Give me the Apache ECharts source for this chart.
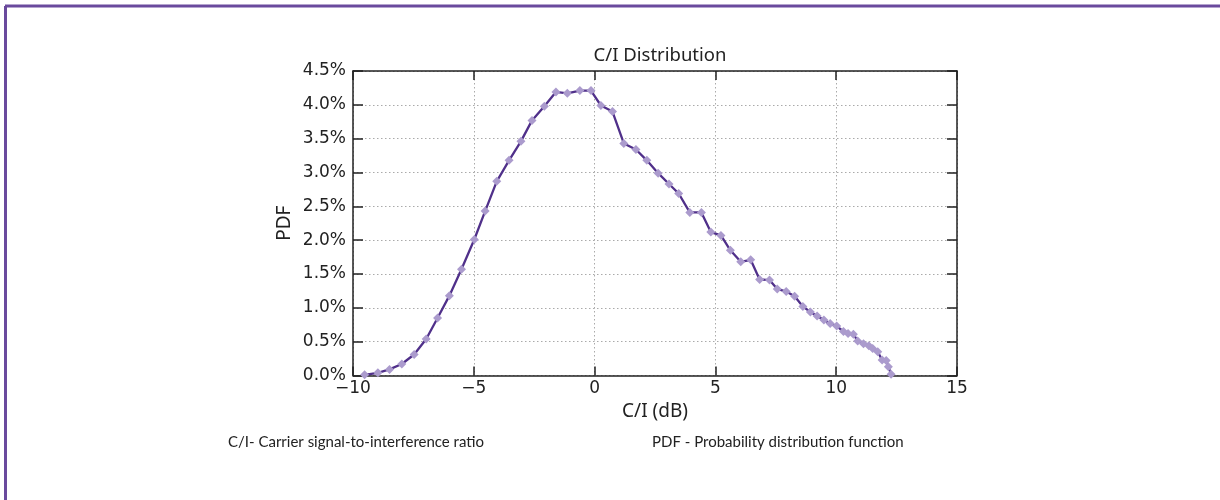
<!DOCTYPE html>
<html>
<head>
<meta charset="utf-8">
<script src="https://cdn.jsdelivr.net/npm/echarts@6/dist/echarts.min.js"></script>
<style>html,body{margin:0;padding:0;background:#fff;}#c{width:1220px;height:500px;}</style>
</head>
<body>
<div id="c"></div>
<script>
// C/I (dB) values of the sample points
const ciValues = [-9.52,-8.97,-8.49,-7.98,-7.47,-6.97,-6.50,-6.01,-5.51,-4.98,-4.53,-4.05,-3.54,-3.05,-2.59,-2.08,-1.60,-1.13,-0.61,-0.15,0.26,0.74,1.21,1.71,2.16,2.63,3.08,3.48,3.94,4.42,4.81,5.23,5.62,6.05,6.46,6.83,7.24,7.56,7.93,8.28,8.62,8.93,9.21,9.49,9.75,10.02,10.30,10.49,10.71,10.89,11.13,11.35,11.51,11.72,11.90,12.07,12.16,12.27];
// PDF values in percent
const pdfValues = [0.01,0.04,0.09,0.17,0.31,0.54,0.85,1.18,1.57,2.01,2.43,2.87,3.18,3.46,3.77,3.98,4.19,4.17,4.21,4.21,3.99,3.90,3.43,3.34,3.18,2.99,2.83,2.69,2.41,2.41,2.12,2.07,1.85,1.68,1.71,1.42,1.41,1.28,1.24,1.17,1.02,0.94,0.88,0.82,0.77,0.73,0.65,0.62,0.61,0.51,0.47,0.44,0.40,0.35,0.23,0.22,0.13,0.02];
const xTicks = [-10, -5, 0, 5, 10, 15];
const yTicks = [0, 0.5, 1, 1.5, 2, 2.5, 3, 3.5, 4, 4.5];
const titleText = 'C/I Distribution';
const xName = 'C/I (dB)';
const yName = 'PDF';
const notes = ['C/I- Carrier signal-to-interference ratio', 'PDF - Probability distribution function'];

const chart = echarts.init(document.getElementById('c'), null, {renderer: 'canvas'});
const axisColor = '#222';
const tickFont = {fontFamily: 'DejaVu Sans', fontSize: 17, color: '#222'};
const textFont = 'Noto Sans';
const data = ciValues.map((x, i) => [x, pdfValues[i]]);

const baseX = {
  type: 'value', min: xTicks[0], max: xTicks[xTicks.length - 1], interval: 5,
  axisLine: {show: true, onZero: false, lineStyle: {color: axisColor, width: 1.5}},
  axisTick: {show: true, inside: true, length: 9, lineStyle: {color: axisColor, width: 1.5}},
  splitLine: {show: false}
};
const baseY = {
  type: 'value', min: yTicks[0], max: yTicks[yTicks.length - 1], interval: 0.5,
  axisLine: {show: true, onZero: false, lineStyle: {color: axisColor, width: 1.5}},
  axisTick: {show: true, inside: true, length: 10, lineStyle: {color: axisColor, width: 1.5}},
  splitLine: {show: false}
};

chart.setOption({
  backgroundColor: '#fff',
  animation: false,
  title: {
    text: titleText, left: 655, textAlign: 'center', top: 41,
    textStyle: {fontFamily: textFont, fontSize: 18.5, fontWeight: 'normal', color: '#222'}
  },
  grid: {left: 353, right: 263, top: 71, bottom: 124.5},
  xAxis: [
    Object.assign({}, baseX, {
      position: 'bottom',
      name: xName, nameLocation: 'middle', nameGap: 23,
      nameTextStyle: {fontFamily: textFont, fontSize: 19, color: '#222'},
      axisLabel: Object.assign({margin: 5, formatter: v => (v < 0 ? '\u2212' + Math.abs(v) : String(v))}, tickFont),
      splitLine: {show: true, lineStyle: {color: '#aaa', type: [1.5, 2.5], width: 1}}
    }),
    Object.assign({}, baseX, {position: 'top', axisLabel: {show: false}})
  ],
  yAxis: [
    Object.assign({}, baseY, {
      position: 'left',
      name: yName, nameLocation: 'middle', nameGap: 59, nameRotate: 90,
      nameTextStyle: {fontFamily: textFont, fontSize: 19, color: '#222'},
      axisLabel: Object.assign({margin: 7, formatter: v => v.toFixed(1) + '%'}, tickFont),
      splitLine: {show: true, lineStyle: {color: '#aaa', type: [1.5, 2.5], width: 1}}
    }),
    Object.assign({}, baseY, {position: 'right', axisLabel: {show: false}})
  ],
  series: [{
    type: 'line', data: data, xAxisIndex: 0, yAxisIndex: 0,
    symbol: 'diamond', symbolSize: 9, showSymbol: true,
    lineStyle: {color: '#50308a', width: 2.3},
    itemStyle: {color: '#ab9bcd', borderWidth: 0},
    z: 3
  }],
  graphic: [
    {type: 'line', shape: {x1: 5, y1: 6, x2: 1220, y2: 6}, style: {stroke: '#6a4a9d', lineWidth: 3}},
    {type: 'line', shape: {x1: 5.5, y1: 6, x2: 5.5, y2: 500}, style: {stroke: '#6a4a9d', lineWidth: 3}},
    {type: 'text', left: 228, top: 435, style: {text: notes[0], font: '15px "Lato"', fill: '#222'}},
    {type: 'text', left: 652, top: 435, style: {text: notes[1], font: '15px "Lato"', fill: '#222'}}
  ]
});
</script>
</body>
</html>
